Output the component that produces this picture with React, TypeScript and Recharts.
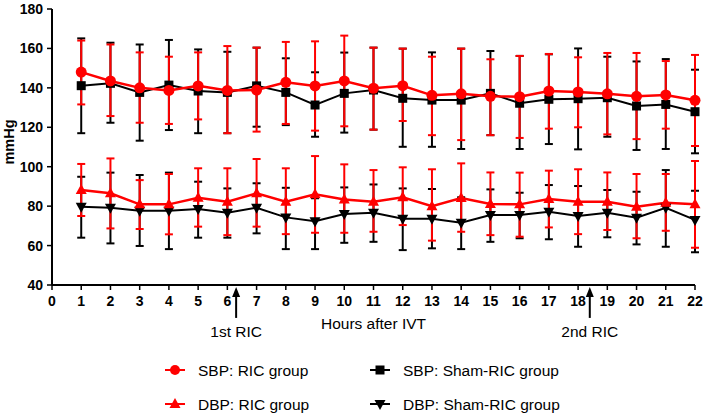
import React from "react"
import { ComposedChart, Line, XAxis, YAxis, ErrorBar, ReferenceLine } from "recharts"

const hours = [1, 2, 3, 4, 5, 6, 7, 8, 9, 10, 11, 12, 13, 14, 15, 16, 17, 18, 19, 20, 21, 22]
const hourTicks = [0, 1, 2, 3, 4, 5, 6, 7, 8, 9, 10, 11, 12, 13, 14, 15, 16, 17, 18, 19, 20, 21, 22]
const mmHgTicks = [40, 60, 80, 100, 120, 140, 160, 180]

// SBP, RIC group (mean, upper and lower end of bar)
const sbpRic = [148, 143.5, 140, 138.7, 141, 138.7, 138.9, 142.8, 141, 143.5, 139.8, 141.1, 136.2, 137, 135.7, 135.5, 138.4, 137.9, 137, 135.7, 136.4, 133.7]
const sbpRicHi = [164, 162, 158, 155.8, 158, 161.2, 160.4, 163.3, 163.6, 166.5, 160.4, 159.9, 155.8, 159.9, 154.5, 156.2, 157.2, 155.5, 157.7, 157.7, 153.6, 156.7]
const sbpRicLo = [131.6, 125.7, 122.3, 121.7, 124, 117, 117.8, 121.7, 118.3, 120.5, 118.8, 123.2, 116, 113.5, 116, 114.6, 119.3, 120, 116.4, 114, 119.3, 110.5]

// SBP, Sham-RIC group
const sbpSham = [141.1, 142.3, 137.7, 141.4, 138.4, 137.7, 141, 137.7, 131.3, 137.2, 138.9, 134.7, 133.8, 133.8, 137.2, 132.2, 134.2, 134.5, 135, 130.8, 131.6, 127.9]
const sbpShamHi = [165.1, 162.9, 162, 164.3, 159.5, 158.3, 160.4, 155, 147.9, 157.9, 160.4, 159.9, 158, 159.9, 158.7, 156.2, 157, 160, 155.8, 153.4, 154.6, 149.2]
const sbpShamLo = [117, 122.3, 113.2, 118.6, 117, 117, 120.3, 121.1, 115.2, 117.3, 118.8, 110.1, 110.1, 109, 116, 109, 111.5, 108.8, 115.2, 108.5, 109, 106.8]

// DBP, RIC group
const dbpRic = [88.2, 86.5, 80.9, 80.9, 84.3, 82.2, 86.5, 82.2, 86, 83.4, 82.2, 84.5, 80, 84.1, 81.1, 80.9, 83.6, 82.2, 82.2, 79.7, 81.7, 80.9]
const dbpRicHi = [101.4, 104.2, 93.2, 96.3, 99.2, 99.2, 103.9, 99.2, 105.4, 101.2, 98.3, 99.7, 98.7, 101.7, 97.1, 97, 98, 98.7, 97.1, 96.3, 96.3, 102.9]
const dbpRicLo = [75, 68.7, 68.4, 65.7, 69.6, 65.3, 69.6, 65.8, 66.5, 66.5, 67, 70.4, 62.5, 67, 65.3, 64.5, 69.2, 65.8, 67.9, 63.7, 67.5, 58.9]

// DBP, Sham-RIC group
const dbpSham = [79.7, 79.2, 77.7, 77.7, 78.5, 76.7, 79.2, 74.3, 72.4, 76, 76.7, 73.6, 73.6, 71.6, 75.5, 75.5, 77.2, 75, 76.7, 74.1, 79.2, 73]
const dbpShamHi = [94.9, 97, 95.8, 97, 92.4, 89, 91.6, 89.3, 84, 89.5, 91, 89, 88.7, 84.5, 88.5, 86.8, 90.7, 90.2, 88.2, 87.3, 98.3, 87.8]
const dbpShamLo = [64, 61.1, 59.8, 58.2, 64, 64, 66.2, 58.2, 58.2, 61.4, 61.9, 57.7, 58.6, 58.2, 61.9, 63.7, 63.2, 59.4, 64.2, 60.6, 59.4, 56.6]

// when the RIC sessions happened (hours after IVT)
const ricHours = [6.3, 18.4]
const ricLabels = ["1st RIC", "2nd RIC"]

const err = (mean: number[], hi: number[], lo: number[], i: number) => [mean[i] - lo[i], hi[i] - mean[i]]

const data = hours.map((hour, i) => ({
  hour,
  sbpRic: sbpRic[i],
  sbpRicErr: err(sbpRic, sbpRicHi, sbpRicLo, i),
  sbpSham: sbpSham[i],
  sbpShamErr: err(sbpSham, sbpShamHi, sbpShamLo, i),
  dbpRic: dbpRic[i],
  dbpRicErr: err(dbpRic, dbpRicHi, dbpRicLo, i),
  dbpSham: dbpSham[i],
  dbpShamErr: err(dbpSham, dbpShamHi, dbpShamLo, i),
}))

const RED = "#ff0000"
const FONT = "'Liberation Sans', Arial, sans-serif"

const SquareDot = (props: any) => {
  const { cx, cy, index } = props
  if (cx == null || cy == null) return <g key={index} />
  return <rect key={index} x={cx - 4.5} y={cy - 4.5} width={9} height={9} fill="#000" />
}

const TriUp = (props: any) => {
  const { cx, cy, index } = props
  if (cx == null || cy == null) return <g key={index} />
  return <path key={index} d={`M${cx},${cy - 6} L${cx + 5.5},${cy + 4} L${cx - 5.5},${cy + 4} Z`} fill={RED} />
}

const TriDown = (props: any) => {
  const { cx, cy, index } = props
  if (cx == null || cy == null) return <g key={index} />
  return <path key={index} d={`M${cx},${cy + 6} L${cx + 5.5},${cy - 4} L${cx - 5.5},${cy - 4} Z`} fill="#000" />
}

const arrowShape = (label: string) => (props: any) => {
  const { x1, y1, y2 } = props
  const top = Math.min(y1, y2)
  const bottom = Math.max(y1, y2)
  return (
    <g>
      <line x1={x1} y1={top + 6} x2={x1} y2={bottom} stroke="#000" strokeWidth={2} />
      <path d={`M${x1},${top} L${x1 + 4},${top + 10} L${x1 - 4},${top + 10} Z`} fill="#000" />
      <text x={x1} y={bottom + 19.5} textAnchor="middle" fontSize={15.5} fill="#000" fontFamily={FONT}>
        {label}
      </text>
    </g>
  )
}

const legendItems = [
  { name: "SBP: RIC group", color: RED, marker: "circle", x: 175, y: 370 },
  { name: "SBP: Sham-RIC group", color: "#000", marker: "square", x: 380, y: 370 },
  { name: "DBP: RIC group", color: RED, marker: "up", x: 175, y: 404 },
  { name: "DBP: Sham-RIC group", color: "#000", marker: "down", x: 380, y: 404 },
]

function LegendMarker({ marker, color, x, y }: any) {
  if (marker === "circle") return <circle cx={x} cy={y} r={5} fill={color} />
  if (marker === "square") return <rect x={x - 4.5} y={y - 4.5} width={9} height={9} fill={color} />
  if (marker === "up") return <path d={`M${x},${y - 6} L${x + 5.5},${y + 4} L${x - 5.5},${y + 4} Z`} fill={color} />
  return <path d={`M${x},${y + 6} L${x + 5.5},${y - 4} L${x - 5.5},${y - 4} Z`} fill={color} />
}

function ChartLegend() {
  return (
    <svg width={709} height={414} style={{ position: "absolute", left: 0, top: 0, pointerEvents: "none" }}>
      {legendItems.map((item) => (
        <g key={item.name}>
          <line x1={item.x - 10} y1={item.y} x2={item.x + 10} y2={item.y} stroke={item.color} strokeWidth={2} />
          <LegendMarker {...item} />
          <text x={item.x + 23} y={item.y + 5.5} fontSize={15.5} fill="#000" fontFamily={FONT}>
            {item.name}
          </text>
        </g>
      ))}
    </svg>
  )
}

export default function App() {
  return (
    <div style={{ position: "absolute", left: 0, top: 0, width: 709, height: 414, background: "#fff", fontFamily: FONT }}>
      <ComposedChart width={709} height={414} data={data} margin={{ top: 9, right: 14, left: 0, bottom: 85 }}>
        <XAxis
          dataKey="hour"
          type="number"
          domain={[0, 22]}
          ticks={hourTicks}
          interval={0}
          axisLine={{ stroke: "#000", strokeWidth: 2 }}
          tickLine={{ stroke: "#000", strokeWidth: 1.5 }}
          tickSize={5}
          tickMargin={6}
          tick={{ fill: "#000", fontSize: 14, fontWeight: 700 }}
          height={44}
          label={{ value: "Hours after IVT", position: "insideBottom", offset: 0, style: { fontSize: 15.5, fill: "#000" } }}
        />
        <YAxis
          type="number"
          domain={[40, 180]}
          ticks={mmHgTicks}
          width={52}
          axisLine={{ stroke: "#000", strokeWidth: 2 }}
          tickLine={{ stroke: "#000", strokeWidth: 1.5 }}
          tickSize={5}
          tickMargin={4}
          tick={{ fill: "#000", fontSize: 14, fontWeight: 700 }}
          label={{
            value: "mmHg",
            angle: -90,
            position: "insideLeft",
            offset: 9,
            dy: -5,
            style: { textAnchor: "middle", fontSize: 14.5, fontWeight: 700, fill: "#000" },
          }}
        />

        <Line dataKey="sbpSham" stroke="#000" strokeWidth={2} dot={<SquareDot />} activeDot={false} isAnimationActive={false}>
          <ErrorBar dataKey="sbpShamErr" width={4} stroke="#000" strokeWidth={2} isAnimationActive={false} />
        </Line>
        <Line dataKey="dbpSham" stroke="#000" strokeWidth={2} dot={<TriDown />} activeDot={false} isAnimationActive={false}>
          <ErrorBar dataKey="dbpShamErr" width={4} stroke="#000" strokeWidth={2} isAnimationActive={false} />
        </Line>
        <Line dataKey="sbpRic" stroke={RED} strokeWidth={2.5} dot={{ r: 5.5, fill: RED, stroke: RED, strokeWidth: 0 }} activeDot={false} isAnimationActive={false}>
          <ErrorBar dataKey="sbpRicErr" width={4} stroke={RED} strokeWidth={2} isAnimationActive={false} />
        </Line>
        <Line dataKey="dbpRic" stroke={RED} strokeWidth={2.5} dot={<TriUp />} activeDot={false} isAnimationActive={false}>
          <ErrorBar dataKey="dbpRicErr" width={4} stroke={RED} strokeWidth={2} isAnimationActive={false} />
        </Line>

        {ricHours.map((h, i) => (
          <ReferenceLine
            key={ricLabels[i]}
            segment={[{ x: h, y: 39 }, { x: h, y: 23.3 }]}
            ifOverflow="visible"
            shape={arrowShape(ricLabels[i])}
          />
        ))}
      </ComposedChart>
      <ChartLegend />
    </div>
  )
}
